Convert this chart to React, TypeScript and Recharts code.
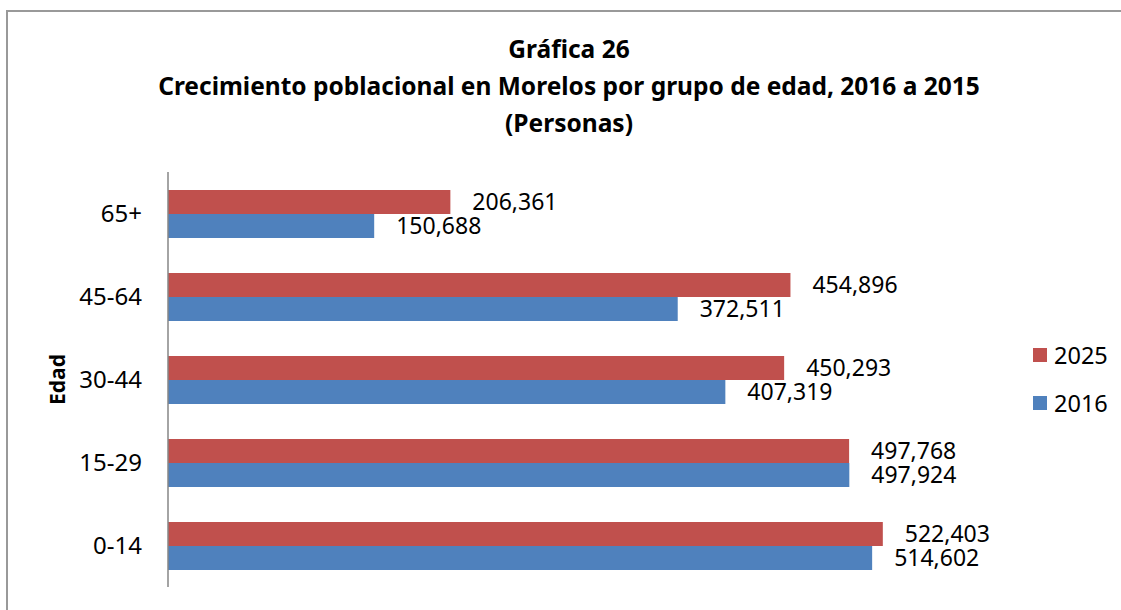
import { BarChart, Bar, XAxis, YAxis, Legend, LabelList } from "recharts";

const categories = ["65+", "45-64", "30-44", "15-29", "0-14"];
const values2025 = [206361, 454896, 450293, 497768, 522403];
const values2016 = [150688, 372511, 407319, 497924, 514602];
const seriesOrder = ["2025", "2016"];
const titleLines = [
  "Gráfica 26",
  "Crecimiento poblacional en Morelos por grupo de edad, 2016 a 2015",
  "(Personas)",
];

const RED = "#C0504D";
const BLUE = "#4F81BD";
const FONT = "'Noto Sans', sans-serif";

const data = categories.map((name, i) => ({
  name,
  y2025: values2025[i],
  y2016: values2016[i],
}));

const fmt = (v: any) => Number(v).toLocaleString("en-US");

const renderLegend = (props: any) => {
  const items = [...(props.payload || [])].sort(
    (a: any, b: any) => seriesOrder.indexOf(a.value) - seriesOrder.indexOf(b.value)
  );
  return (
    <div style={{ fontFamily: FONT, fontSize: 23.5, color: "#000" }}>
      {items.map((it: any) => (
        <div
          key={it.value}
          style={{ display: "flex", alignItems: "center", height: 48 }}
        >
          <span
            style={{
              display: "inline-block",
              width: 14,
              height: 14,
              background: it.color,
              marginRight: 7,
            }}
          />
          <span>{it.value}</span>
        </div>
      ))}
    </div>
  );
};

const EdadLabel = (props: any) => {
  const vb = props.viewBox || {};
  const cx = vb.x + 57;
  const cy = vb.y + vb.height / 2;
  return (
    <text
      x={cx}
      y={cy}
      transform={`rotate(-90 ${cx} ${cy})`}
      textAnchor="middle"
      dominantBaseline="central"
      fontFamily={FONT}
      fontWeight="bold"
      fontSize={21}
      fill="#000"
    >
      Edad
    </text>
  );
};

export default function App() {
  return (
    <div
      style={{
        position: "fixed",
        left: 0,
        top: 0,
        width: 1121,
        height: 610,
        overflow: "hidden",
        background: "#fff",
      }}
    >
      <div
        style={{
          position: "absolute",
          left: 6,
          top: 10,
          width: 1115,
          height: 2,
          background: "#999",
        }}
      />
      <div
        style={{
          position: "absolute",
          left: 6,
          top: 10,
          width: 2,
          height: 600,
          background: "#999",
        }}
      />
      <svg
        width={1121}
        height={150}
        style={{ position: "absolute", left: 0, top: 0 }}
      >
        {titleLines.map((t, i) => (
          <text
            key={i}
            x={569}
            y={58 + i * 37}
            textAnchor="middle"
            fontFamily={FONT}
            fontWeight="bold"
            fontSize={24.5}
            fill="#000"
          >
            {t}
          </text>
        ))}
      </svg>
      <div style={{ position: "absolute", left: 0, top: 0 }}>
        <BarChart
          width={1121}
          height={610}
          data={data}
          layout="vertical"
          margin={{ top: 172, right: 42, bottom: 23, left: 0 }}
          barCategoryGap={18}
          barGap={0}
        >
          <XAxis type="number" domain={[0, 600000]} hide />
          <YAxis
            type="category"
            dataKey="name"
            width={168}
            axisLine={{ stroke: "#868686", strokeWidth: 1.5 }}
            tickLine={false}
            tickSize={0}
            tickMargin={26}
            tick={{ fontFamily: FONT, fontSize: 24, fill: "#000" }}
            label={<EdadLabel />}
          />
          <Legend
            layout="vertical"
            align="right"
            verticalAlign="top"
            content={renderLegend}
            wrapperStyle={{ left: 1033, top: 331, width: 90 }}
          />
          <Bar dataKey="y2025" name="2025" fill={RED} isAnimationActive={false}>
            <LabelList
              dataKey="y2025"
              position="right"
              offset={22}
              formatter={fmt}
              style={{ fontFamily: FONT, fontSize: 23, fill: "#000" }}
            />
          </Bar>
          <Bar dataKey="y2016" name="2016" fill={BLUE} isAnimationActive={false}>
            <LabelList
              dataKey="y2016"
              position="right"
              offset={22}
              formatter={fmt}
              style={{ fontFamily: FONT, fontSize: 23, fill: "#000" }}
            />
          </Bar>
        </BarChart>
      </div>
    </div>
  );
}
